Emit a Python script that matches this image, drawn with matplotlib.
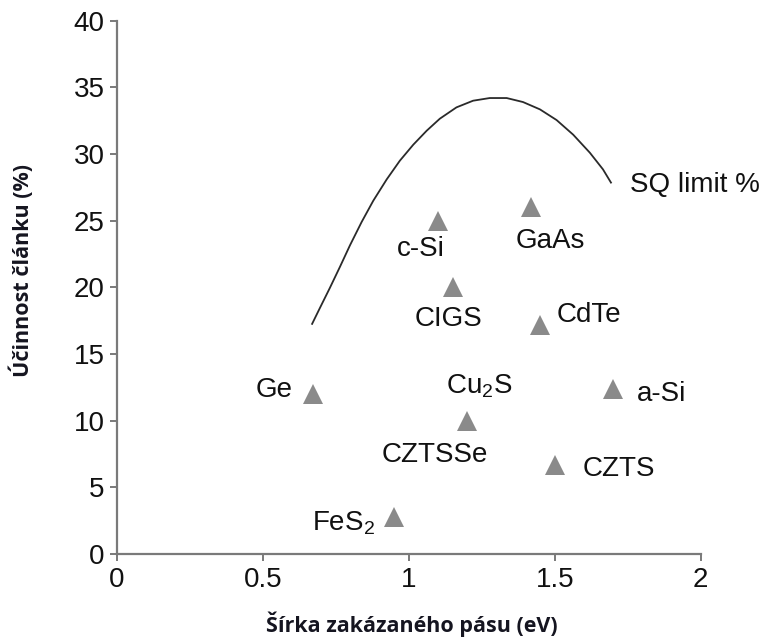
import matplotlib
matplotlib.use("Agg")
import matplotlib.pyplot as plt

plt.rcParams['font.family'] = ['Liberation Sans', 'DejaVu Sans']
plt.rcParams['mathtext.fontset'] = 'custom'
plt.rcParams['mathtext.rm'] = 'Liberation Sans'
plt.rcParams['mathtext.it'] = 'Liberation Sans'

# Data
materials = ['c-Si', 'GaAs', 'CIGS', 'CdTe', 'Ge', r'Cu$_\mathregular{2}$S', 'a-Si', 'CZTS', r'FeS$_\mathregular{2}$']
bandgap = [1.10, 1.42, 1.15, 1.45, 0.67, 1.20, 1.70, 1.50, 0.95]
efficiency = [25.0, 26.0, 20.0, 17.2, 12.0, 10.0, 12.4, 6.7, 2.8]

sq_x = [0.667, 0.695, 0.729, 0.764, 0.798, 0.838, 0.878, 0.924, 0.969, 1.015, 1.061,
        1.106, 1.163, 1.220, 1.277, 1.335, 1.391, 1.449, 1.506, 1.563, 1.620, 1.665, 1.694]
sq_y = [17.2, 18.45, 19.95, 21.55, 23.15, 24.9, 26.5, 28.1, 29.5, 30.7, 31.75,
        32.65, 33.5, 34.0, 34.2, 34.2, 33.9, 33.35, 32.55, 31.45, 30.1, 28.85, 27.8]

xticks = [0, 0.5, 1, 1.5, 2]
xticklabels = ['0', '0.5', '1', '1.5', '2']
yticks = [0, 5, 10, 15, 20, 25, 30, 35, 40]

fig = plt.figure(figsize=(7.65, 6.41), dpi=100)
ax = fig.add_axes([0.153, 0.1357, 0.763, 0.832])

ax.plot(sq_x, sq_y, color='#2a2a2a', lw=1.3, solid_capstyle='butt', solid_joinstyle='round')
ax.plot(bandgap, efficiency, linestyle='none', marker='^', markersize=15,
        color='#8a8a8a', markeredgewidth=0)

ax.set_xlim(0, 2)
ax.set_ylim(0, 40)
ax.set_xticks(xticks)
ax.set_xticklabels(xticklabels)
ax.set_yticks(yticks)

for s in ['top', 'right']:
    ax.spines[s].set_visible(False)
for s in ['left', 'bottom']:
    ax.spines[s].set_color('#7a7a7a')
    ax.spines[s].set_linewidth(1.6)
ax.tick_params(axis='both', colors='#7a7a7a', length=5, width=1.4, labelsize=20,
               labelcolor='#111111', pad=4)

tk = dict(fontsize=20, color='#111111')
ax.text(1.757, 27.7, 'SQ limit %', ha='left', va='center', **tk)
ax.text(1.041, 22.9, 'c-Si', ha='center', va='center', **tk)
ax.text(1.486, 23.5, 'GaAs', ha='center', va='center', **tk)
ax.text(1.134, 17.6, 'CIGS', ha='center', va='center', **tk)
ax.text(1.507, 17.9, 'CdTe', ha='left', va='center', **tk)
ax.text(0.60, 12.3, 'Ge', ha='right', va='center', **tk)
ax.text(1.127, 12.6, r'Cu$_\mathregular{2}$S', ha='left', va='center', **tk)
ax.text(1.781, 12.0, 'a-Si', ha='left', va='center', **tk)
ax.text(1.089, 7.4, 'CZTSSe', ha='center', va='center', **tk)
ax.text(1.596, 6.4, 'CZTS', ha='left', va='center', **tk)
ax.text(0.884, 2.3, r'FeS$_\mathregular{2}$', ha='right', va='center', **tk)

lab = dict(fontweight='bold', family=['Open Sans', 'DejaVu Sans'], color='#151520')
fig.text(411.5 / 765, 1 - 624 / 641, 'Šírka zakázaného pásu (eV)', fontsize=15.5,
         ha='center', va='center', **lab)
fig.text(22 / 765, 1 - 270.5 / 641, 'Účinnost článku (%)', fontsize=15.5, rotation=90,
         ha='center', va='center', **lab)

fig.savefig('out.png', dpi=100)
